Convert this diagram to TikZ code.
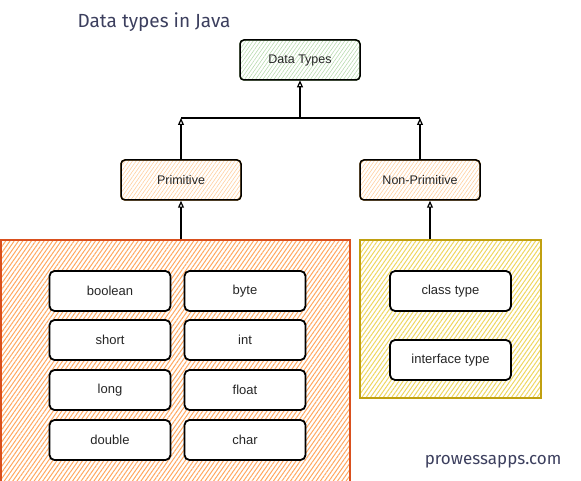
\documentclass[tikz,border=0pt]{standalone}
\usepackage{fontspec}
\setmainfont{Liberation Sans}
\newfontfamily\handfont{Fira Sans}
\usetikzlibrary{arrows.meta,positioning,patterns.meta}
\definecolor{greenline}{HTML}{82B366}
\definecolor{greenfill}{HTML}{B9DBB0}
\definecolor{orgline}{HTML}{D08A20}
\definecolor{orgfill}{HTML}{FFCFA0}
\definecolor{redline}{HTML}{D9501E}
\definecolor{redfill}{HTML}{FFA860}
\definecolor{yelline}{HTML}{C0A010}
\definecolor{yelfill}{HTML}{EED660}
\definecolor{inkblue}{HTML}{3C3F5E}
\tikzset{tip/.style={-{Triangle[open,length=7pt,width=6pt]},line width=1.2pt}}

\begin{document}
\begin{tikzpicture}[x=1pt,y=-1pt]%
        \useasboundingbox (0,0) rectangle (581,481); %%
        % containers
        \begin{scope}[shape=rectangle,inner sep=0pt,line width=1.5pt]
        \tikzstyle{every node}=[draw] %%
        \node[draw=redline,pattern={Lines[angle=55,distance=3.5pt,line width=1pt]},pattern color=redfill,minimum width=349,minimum height=244] (pbox) at (175.5,362) {}; %%
        \node[draw=yelline,pattern={Lines[angle=55,distance=3.5pt,line width=1pt]},pattern color=yelfill,minimum width=181,minimum height=158] (nbox) at (450.5,319) {}; %%
        \end{scope}
        % tree nodes
        \begin{scope}[shape=rectangle,rounded corners=4pt,minimum width=120,minimum height=40,line width=1.5pt]
        \tikzstyle{every node}=[draw,font=\fontsize{12.5}{14}\selectfont,text=black!85] %%
        \node[draw=greenline,pattern={Lines[angle=55,distance=3pt,line width=.6pt]},pattern color=greenfill] (dt) at (300,60) {}; %%
        \node at (dt) {Data Types}; %%
        \node[draw=orgline,pattern={Lines[angle=55,distance=3pt,line width=.6pt]},pattern color=orgfill] (prim) at (181,180) {}; %%
        \node at (prim) {Primitive}; %%
        \node[draw=orgline,pattern={Lines[angle=55,distance=3pt,line width=.6pt]},pattern color=orgfill] (nprim) at (420,180) {}; %%
        \node at (nprim) {Non-Primitive}; %%
        \end{scope}
        % type boxes
        \begin{scope}[shape=rectangle,rounded corners=5pt,minimum width=121,minimum height=40,fill=white,line width=1.8pt]
        \tikzstyle{every node}=[draw,fill=white,font=\fontsize{13}{15}\selectfont,text=black!85] %%
        \node (bool) at (110,291) {boolean}; %%
        \node (byte) at (245,291) {byte}; %%
        \node (short) at (110,340) {short}; %%
        \node (int) at (245,340) {int}; %%
        \node (long) at (110,390) {long}; %%
        \node (float) at (245,390) {float}; %%
        \node (double) at (110,440) {double}; %%
        \node (char) at (245,440) {char}; %%
        \node (class) at (450.5,291) {class type}; %%
        \node (iface) at (450.5,360) {interface type}; %%
        \end{scope}
        % connectors
        \coordinate (bar) at (300,118); %%
        \draw[tip] (bar) -- (dt); %%
        \draw[line width=1.2pt] (prim.north |- bar) -- (nprim.north |- bar); %%
        \draw[tip] (prim) -- (prim.north |- bar); %%
        \draw[tip] (nprim) -- (nprim.north |- bar); %%
        \draw[tip] (pbox.north -| prim) -- (prim); %%
        \draw[tip] ([xshift=10]nprim.south |- nbox.north) -- ([xshift=10]nprim.south); %%
        % texts
        \node[anchor=west,text=inkblue,font=\handfont\fontsize{19}{21}\selectfont] (title) at (74,22) {Data types in Java}; %%
        \node[anchor=east,text=inkblue,font=\handfont\fontsize{17}{19}\selectfont] (site) at (565,462) {prowessapps.com}; %%
        \end{tikzpicture}
\end{document}
